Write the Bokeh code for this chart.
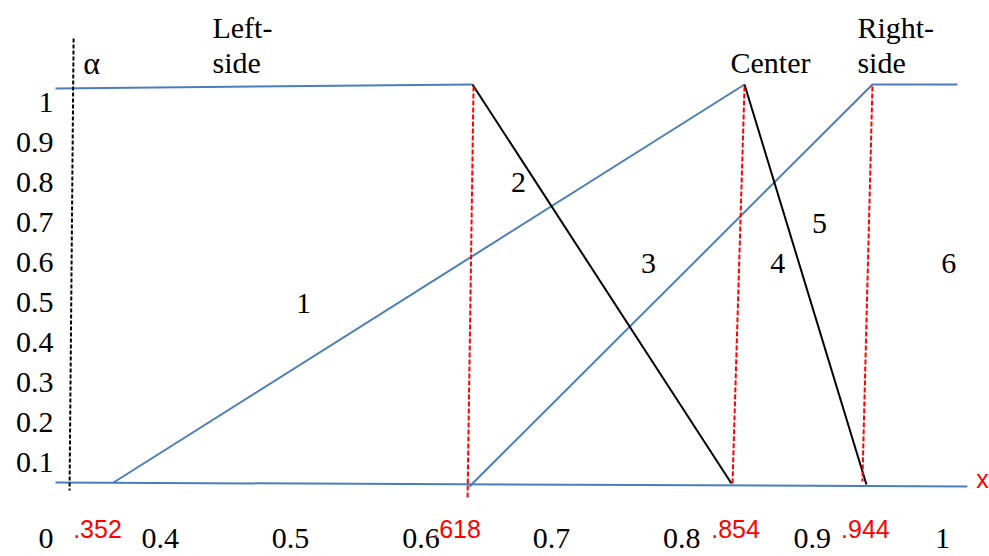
from bokeh.plotting import figure
from bokeh.models import Range1d, FixedTicker
from bokeh.core.properties import value
from bokeh.embed import file_html
from bokeh.resources import INLINE

# ---- data (x on the 0.4..1 scale, y on the 0.1..1 scale) ----
# tick labels
x_ticks = [0.4, 0.5, 0.6, 0.7, 0.8, 0.9, 1.0]
x_tick_labels = ["0.4", "0.5", "0.6", "0.7", "0.8", "0.9", "1"]
y_ticks = [0.1, 0.2, 0.3, 0.4, 0.5, 0.6, 0.7, 0.8, 0.9, 1.0]
y_tick_labels = ["0.1", "0.2", "0.3", "0.4", "0.5", "0.6", "0.7", "0.8", "0.9", "1"]
origin_label = "0"
origin_pos = -0.09          # broken-axis origin (shared corner label)

# membership functions (blue rising parts / plateaus)
left_plateau_x = [0.3197, 0.6395]
left_plateau_y = [1.035, 1.045]
center_rise_x = [0.3642, 0.8481]
center_rise_y = [0.05, 1.045]
right_rise_x = [0.6372, 0.9462, 1.0114]
right_rise_y = [0.04, 1.045, 1.045]
base_x = [0.3197, 1.019]
base_y = [0.05, 0.04]

# falling parts (black)
left_fall_x = [0.6395, 0.8381]
left_fall_y = [1.045, 0.0475]
center_fall_x = [0.8481, 0.9416]
center_fall_y = [1.045, 0.045]

# alpha cut line (black dashed)
alpha_x = [0.3336, 0.3305]
alpha_y = [1.16, 0.03]

# red dashed verticals at crossing points
cross_xs = [[0.6403, 0.6357], [0.8481, 0.8389], [0.9462, 0.9385]]
cross_ys = [[1.04, 0.01], [1.04, 0.0475], [1.04, 0.0525]]
cross_labels = [".352", ".618", ".854", ".944"]
cross_label_x = [0.3519, 0.6273, 0.8412, 0.9408]
cross_label_row = -0.065

# region numbers
region_labels = ["1", "2", "3", "4", "5", "6"]
region_x = [0.5099, 0.6748, 0.7745, 0.8736, 0.9056, 1.0048]
region_y = [0.4975, 0.80, 0.5975, 0.5975, 0.6975, 0.5975]

# function names (two-line labels)
name_lines = ["Left-", "side", "Center", "Right-", "side"]
name_x = [0.4401, 0.4401, 0.8680, 0.9347, 0.9347]
name_y = [1.1885, 1.101, 1.101, 1.1885, 1.101]
name_align = ["left", "left", "center", "left", "left"]

alpha_label = "α"
alpha_label_x, alpha_label_y = 0.3474, 1.0995
x_axis_name = "x"
x_axis_name_x, x_axis_name_y = 1.0306, 0.06

BLUE = "#4A7EBB"
RED = "#FF0000"
SERIF = "Liberation Serif"
SANS = "Liberation Sans"

p = figure(width=989, height=556, output_backend="svg", toolbar_location=None,
           x_range=Range1d(0.31895, 1.03597), y_range=Range1d(-0.135, 1.255),
           x_axis_location=None, min_border_left=54, min_border_right=0,
           min_border_top=0, min_border_bottom=0)
p.grid.visible = False
p.outline_line_color = None

ya = p.yaxis[0]
ya.ticker = FixedTicker(ticks=[origin_pos] + y_ticks, minor_ticks=[])
ya.major_label_overrides = {origin_pos: origin_label, **{t: l for t, l in zip(y_ticks, y_tick_labels)}}
ya.axis_line_color = None
ya.major_tick_line_color = None
ya.major_tick_out = 0
ya.major_label_standoff = 1
ya.major_label_text_font = SERIF
ya.major_label_text_font_size = "30px"
ya.major_label_text_color = "black"

# lines
for xs, ys in [(left_plateau_x, left_plateau_y), (center_rise_x, center_rise_y),
               (right_rise_x, right_rise_y), (base_x, base_y)]:
    p.line(xs, ys, line_color=BLUE, line_width=2)
for xs, ys in [(left_fall_x, left_fall_y), (center_fall_x, center_fall_y)]:
    p.line(xs, ys, line_color="black", line_width=2)
p.line(alpha_x, alpha_y, line_color="black", line_width=2, line_dash="4 2")
p.multi_line(cross_xs, cross_ys, line_color=RED, line_width=2, line_dash="5 2")

# x tick labels (inside the drawing, on the label row)
p.text(x=x_ticks, y=[origin_pos] * len(x_ticks), text=x_tick_labels,
       text_font=value(SERIF), text_font_size="30px", text_color="black",
       text_align="center", text_baseline="middle")

# red crossing values
p.text(x=cross_label_x, y=[cross_label_row] * len(cross_labels), text=cross_labels,
       text_font=value(SANS), text_font_size="25px", text_color=RED,
       text_align="center", text_baseline="middle")

# region numbers
p.text(x=region_x, y=region_y, text=region_labels,
       text_font=value(SERIF), text_font_size="30px", text_color="black",
       text_align="center", text_baseline="middle")

# names
p.text(x=name_x, y=name_y, text=name_lines, text_align=name_align,
       text_font=value(SERIF), text_font_size="30px", text_color="black",
       text_baseline="middle")

p.text(x=[alpha_label_x], y=[alpha_label_y], text=[alpha_label],
       text_font=value(SERIF), text_font_size="32px", text_color="black",
       text_align="center", text_baseline="middle")

p.text(x=[x_axis_name_x], y=[x_axis_name_y], text=[x_axis_name],
       text_font=value(SANS), text_font_size="25px", text_color=RED,
       text_align="center", text_baseline="middle")

open("out.html", "w").write(file_html(p, INLINE))
